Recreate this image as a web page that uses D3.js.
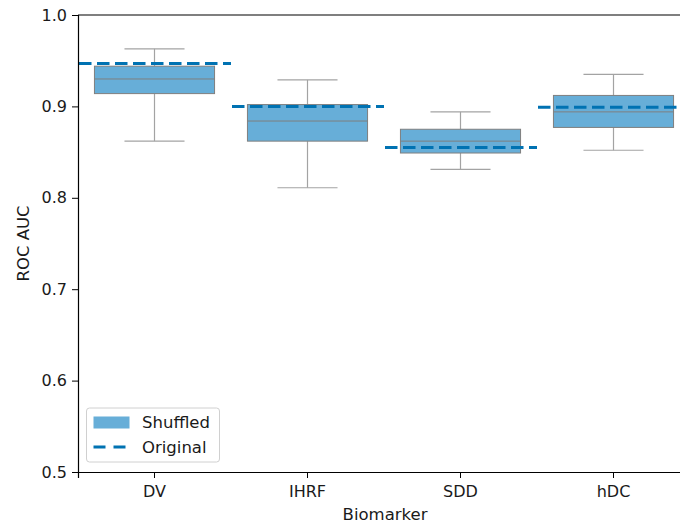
<!DOCTYPE html>
<html>
<head>
<meta charset="utf-8">
<script src="https://cdn.jsdelivr.net/npm/d3@7"></script>
<style>
  html, body { margin: 0; padding: 0; background: #fff; }
  svg text { font-family: "DejaVu Sans", sans-serif; }
</style>
</head>
<body>
<svg id="chart" width="680" height="524"></svg>
<script>
// Biomarkers and shuffled-label AUC distributions (box-plot summaries)
const categories = ["DV", "IHRF", "SDD", "hDC"];
const whiskerLow  = [0.862, 0.811, 0.831, 0.852];
const q1          = [0.914, 0.862, 0.849, 0.877];
const median      = [0.930, 0.884, 0.862, 0.894];
const q3          = [0.944, 0.902, 0.875, 0.912];
const whiskerHigh = [0.963, 0.929, 0.894, 0.935];
// AUC obtained with the original (unshuffled) labels
const original    = [0.947, 0.900, 0.855, 0.899];
const yTicks = [0.5, 0.6, 0.7, 0.8, 0.9, 1.0];

const boxes = categories.map((c, i) => ({
  name: c, lo: whiskerLow[i], q1: q1[i], med: median[i], q3: q3[i], hi: whiskerHigh[i], orig: original[i]
}));

const svg = d3.select("#chart");
const plot = { left: 78, top: 15, bottom: 472, right: 690 };

const x = d3.scaleBand().domain(categories).range([plot.left, plot.right]).padding(0);
const y = d3.scaleLinear().domain([0.5, 1.0]).range([plot.bottom, plot.top]);

const boxW = x.bandwidth() * 0.785;
const capW = boxW / 2;
const fill = "#67aed8";
const edge = "#7f7f7f";
const whiskerColor = "#a3a3a3";
const lineColor = "#0072b2";
const textColor = "#1a1a1a";

const g = svg.append("g");

const bx = g.selectAll("g.box").data(boxes).enter().append("g").attr("class", "box")
  .attr("transform", d => `translate(${x(d.name) + x.bandwidth() / 2},0)`);

// whiskers
bx.append("line").attr("x1", 0).attr("x2", 0)
  .attr("y1", d => y(d.hi)).attr("y2", d => y(d.q3))
  .attr("stroke", whiskerColor).attr("stroke-width", 1.2);
bx.append("line").attr("x1", 0).attr("x2", 0)
  .attr("y1", d => y(d.q1)).attr("y2", d => y(d.lo))
  .attr("stroke", whiskerColor).attr("stroke-width", 1.2);
// caps
bx.append("line").attr("x1", -capW / 2).attr("x2", capW / 2)
  .attr("y1", d => y(d.hi)).attr("y2", d => y(d.hi))
  .attr("stroke", whiskerColor).attr("stroke-width", 1.2);
bx.append("line").attr("x1", -capW / 2).attr("x2", capW / 2)
  .attr("y1", d => y(d.lo)).attr("y2", d => y(d.lo))
  .attr("stroke", whiskerColor).attr("stroke-width", 1.2);
// box body
bx.append("rect").attr("x", -boxW / 2).attr("width", boxW)
  .attr("y", d => y(d.q3)).attr("height", d => y(d.q1) - y(d.q3))
  .attr("fill", fill).attr("stroke", edge).attr("stroke-width", 1);
// median
bx.append("line").attr("x1", -boxW / 2).attr("x2", boxW / 2)
  .attr("y1", d => y(d.med)).attr("y2", d => y(d.med))
  .attr("stroke", edge).attr("stroke-width", 1);

// original AUC dashed lines across each category band
g.selectAll("line.orig").data(boxes).enter().append("line").attr("class", "orig")
  .attr("x1", d => x(d.name) + 1).attr("x2", d => x(d.name) + x.bandwidth())
  .attr("y1", d => y(d.orig)).attr("y2", d => y(d.orig))
  .attr("stroke", lineColor).attr("stroke-width", 3)
  .attr("stroke-dasharray", "12.5,5.5");

// axes
const yAxis = svg.append("g").attr("transform", `translate(${plot.left},0)`)
  .call(d3.axisLeft(y).tickValues(yTicks).tickFormat(d3.format(".1f")).tickSizeOuter(0).tickSize(6));
const xAxis = svg.append("g").attr("transform", `translate(0,${plot.bottom})`)
  .call(d3.axisBottom(x).tickSizeOuter(0).tickSize(6));
[yAxis, xAxis].forEach(a => {
  a.select(".domain").attr("stroke", "#000").attr("stroke-width", 1.2);
  a.selectAll(".tick line").attr("stroke", "#000").attr("stroke-width", 1);
  a.selectAll(".tick text").attr("font-size", 16).attr("fill", textColor)
    .attr("font-family", '"DejaVu Sans", sans-serif');
});
yAxis.selectAll(".tick text").attr("x", -11);
xAxis.selectAll(".tick text").attr("y", 25).attr("dy", 0);
// top spine
svg.append("line").attr("x1", plot.left).attr("x2", plot.right).attr("y1", plot.top).attr("y2", plot.top)
  .attr("stroke", "#000").attr("stroke-width", 1.2);

// axis titles
svg.append("text").attr("x", 385).attr("y", 520)
  .attr("text-anchor", "middle").attr("font-size", 16.5).attr("fill", textColor).text("Biomarker");
svg.append("text").attr("transform", `translate(28.5,${(plot.top + plot.bottom) / 2}) rotate(-90)`)
  .attr("text-anchor", "middle").attr("font-size", 16.5).attr("fill", textColor).text("ROC AUC");

// legend
const lg = svg.append("g").attr("transform", "translate(86.5,408)");
lg.append("rect").attr("width", 133).attr("height", 54).attr("rx", 3)
  .attr("fill", "#fff").attr("fill-opacity", 0.8).attr("stroke", "#d0d0d0");
lg.append("rect").attr("x", 7).attr("y", 8.5).attr("width", 36).attr("height", 12)
  .attr("fill", fill);
lg.append("line").attr("x1", 7).attr("x2", 40).attr("y1", 39).attr("y2", 39)
  .attr("stroke", lineColor).attr("stroke-width", 3).attr("stroke-dasharray", "12,8");
lg.append("text").attr("x", 55.5).attr("y", 19.5).attr("font-size", 16.5).attr("fill", textColor).text("Shuffled");
lg.append("text").attr("x", 55.5).attr("y", 44.5).attr("font-size", 16.5).attr("fill", textColor).text("Original");
</script>
</body>
</html>
